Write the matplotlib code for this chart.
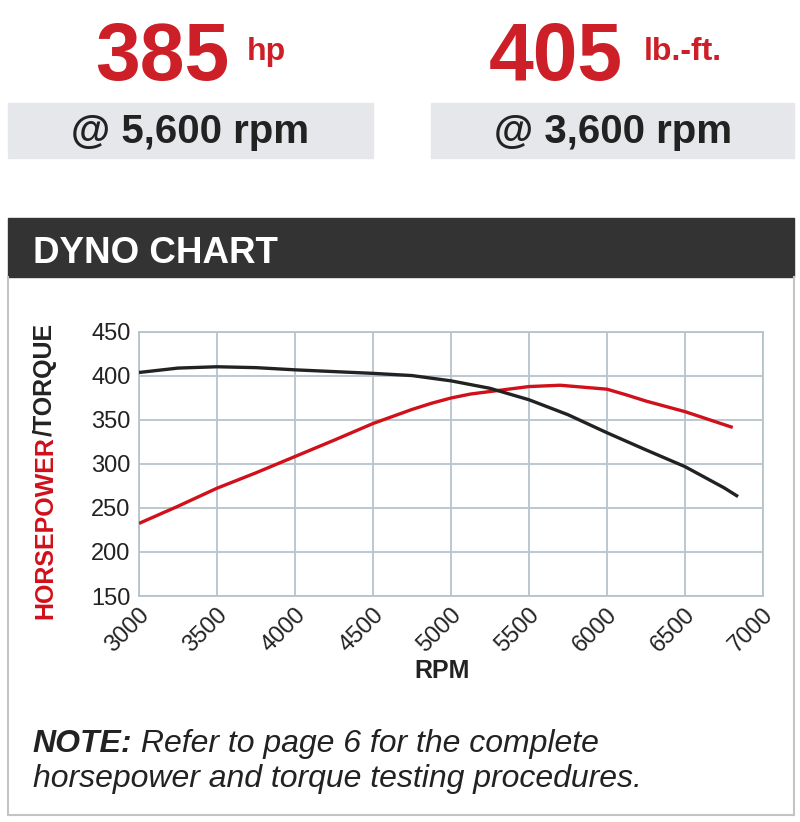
import matplotlib
matplotlib.use("Agg")
import matplotlib.pyplot as plt
from matplotlib.patches import Rectangle
from matplotlib.lines import Line2D
from matplotlib.transforms import ScaledTranslation

# values
rpm_torque = [3000, 3250, 3500, 3750, 4000, 4250, 4500, 4750, 5000, 5250,
              5500, 5750, 6000, 6250, 6500, 6750, 6840]
torque = [404, 409, 410.5, 409.5, 407, 405, 403, 400.5, 394.5, 386,
          373, 356, 335.5, 316, 297, 273, 263]

rpm_hp = [3000, 3250, 3500, 3750, 4000, 4250, 4500, 4750, 4875, 5000, 5125,
          5300, 5500, 5700, 6000, 6125, 6250, 6500, 6806]
hp = [232.5, 252, 272.5, 290, 308.5, 327, 346, 362, 369, 375, 379.5,
      383.5, 388, 389.5, 385, 378.5, 371.5, 359.5, 341.5]

x_ticks = [3000, 3500, 4000, 4500, 5000, 5500, 6000, 6500, 7000]
y_ticks = [150, 200, 250, 300, 350, 400, 450]

peak_hp, peak_hp_unit, peak_hp_rpm = "385", "hp", "@ 5,600 rpm"
peak_tq, peak_tq_unit, peak_tq_rpm = "405", "lb.-ft.", "@ 3,600 rpm"

RED = "#cc1f27"
LINE_RED = "#d0101a"
DARK = "#222222"
GRID = "#b7c3cb"
BOX = "#e6e7ea"
BAR = "#333333"

W, H = 800, 822
fig = plt.figure(figsize=(W / 100, H / 100), dpi=100)
plt.rcParams['font.family'] = ['Liberation Sans', 'DejaVu Sans']


def fx(px):
    return px / W


def fy(py):
    return 1 - py / H


def rect(x0, y0, x1, y1, color):
    fig.patches.append(Rectangle((fx(x0), fy(y1)), (x1 - x0) / W, (y1 - y0) / H,
                                 transform=fig.transFigure, color=color, zorder=0))


# header boxes
rect(8, 103, 373, 158, BOX)
rect(431, 103, 794, 158, BOX)
rect(8, 218, 794, 277, BAR)

# panel border
for xs, ys in [([8, 8], [277, 815]), ([794, 794], [277, 815]), ([8, 794], [815, 815])]:
    fig.add_artist(Line2D([fx(v) for v in xs], [fy(v) for v in ys],
                          transform=fig.transFigure, color="#c4c4c4", lw=1.5))

fig.text(fx(95), fy(80), peak_hp, color=RED, fontsize=58, weight="bold", va="baseline")
fig.text(fx(247), fy(60), peak_hp_unit, color=RED, fontsize=23, weight="bold",
         va="baseline")
fig.text(fx(489), fy(80), peak_tq, color=RED, fontsize=58, weight="bold", va="baseline")
fig.text(fx(644), fy(60), peak_tq_unit, color=RED, fontsize=23, weight="bold",
         va="baseline")
fig.text(fx(190), fy(143), peak_hp_rpm, color=DARK, fontsize=29, weight="bold",
         ha="center", va="baseline")
fig.text(fx(613), fy(143), peak_tq_rpm, color=DARK, fontsize=29, weight="bold",
         ha="center", va="baseline")
fig.text(fx(33), fy(263), "DYNO CHART", color="white", fontsize=26.5, weight="bold",
         va="baseline")

# chart
ax = fig.add_axes([fx(139), fy(596), 624 / W, 264 / H])
ax.plot(rpm_hp, hp, color=LINE_RED, lw=2.4, solid_capstyle="butt", zorder=3)
ax.plot(rpm_torque, torque, color=DARK, lw=2.4, solid_capstyle="butt", zorder=3)
ax.set_xlim(3000, 7000)
ax.set_ylim(150, 450)
ax.set_xticks(x_ticks)
ax.set_yticks(y_ticks)
ax.grid(True, color=GRID, lw=1.3)
ax.set_axisbelow(True)
for s in ax.spines.values():
    s.set_color(GRID)
    s.set_linewidth(1.3)
ax.tick_params(axis="both", length=0, labelsize=17, labelcolor=DARK)
ax.tick_params(axis="x", pad=11)
ax.tick_params(axis="y", pad=6)
shift = ScaledTranslation(7 / 100, 0, fig.dpi_scale_trans)
for lab in ax.get_xticklabels():
    lab.set_rotation(45)
    lab.set_ha("right")
    lab.set_va("center")
    lab.set_rotation_mode("anchor")
    lab.set_transform(lab.get_transform() + shift)

fig.text(fx(442), fy(678), "RPM", color=DARK, fontsize=18, weight="bold",
         ha="center", va="baseline")

renderer = fig.canvas.get_renderer()
t1 = fig.text(fx(45), fy(619), "HORSEPOWER", color=LINE_RED, fontsize=18,
              weight="bold", rotation=90, ha="center", va="bottom")
bb = t1.get_window_extent(renderer)
fig.text(fx(45), bb.y1 / fig.bbox.height, "/TORQUE", color=DARK, fontsize=18,
         weight="bold", rotation=90, ha="center", va="bottom")

# note
n1 = fig.text(fx(32), fy(752), "NOTE:", color=DARK, fontsize=23, weight="bold",
              style="italic", va="baseline")
bb = n1.get_window_extent(renderer)
fig.text(bb.x1 / fig.bbox.width, fy(752), " Refer to page 6 for the complete",
         color=DARK, fontsize=23, style="italic", va="baseline")
fig.text(fx(33), fy(787), "horsepower and torque testing procedures.",
         color=DARK, fontsize=23, style="italic", va="baseline")

fig.savefig("out.png", dpi=100)
